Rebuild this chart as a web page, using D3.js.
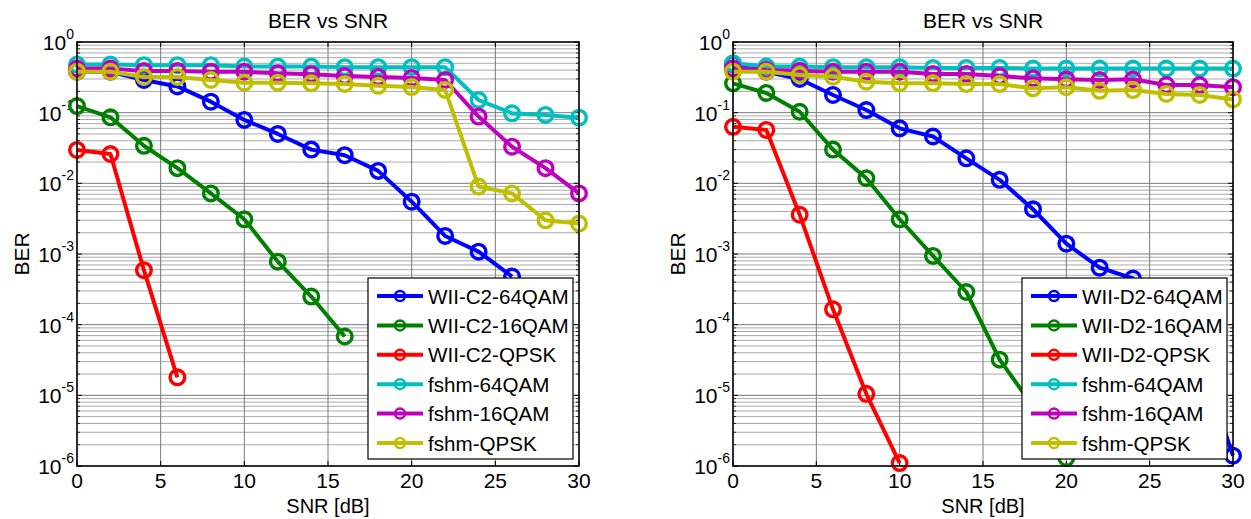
<!DOCTYPE html>
<html><head><meta charset="utf-8">
<script src="https://cdn.jsdelivr.net/npm/d3@7"></script>
<style>body{margin:0;background:#fff}svg{display:block}text{font-family:"Liberation Sans",Arial,Helvetica,sans-serif;fill:#000}</style>
</head><body><svg id="c" width="1251" height="519"></svg>
<script>
const snr = [0,2,4,6,8,10,12,14,16,18,20,22,24,26,28,30];
const xTicks = [0,5,10,15,20,25,30];
const yTickExps = [0,-1,-2,-3,-4,-5,-6];
const chartTitle = "BER vs SNR";
const xLabel = "SNR [dB]";
const yLabel = "BER";

// Left panel (WII-C2)
const c2_64qam = [0.38,0.38,0.29,0.235,0.143,0.079,0.050,0.030,0.025,0.015,0.0055,0.0018,0.00108,0.00048];
const c2_16qam = [0.124,0.086,0.034,0.0164,0.0072,0.0031,0.00078,0.00025,0.000068];
const c2_qpsk  = [0.0297,0.026,0.00059,0.000018];
const fshmL_64qam = [0.48,0.48,0.47,0.47,0.47,0.45,0.45,0.45,0.44,0.44,0.44,0.44,0.151,0.098,0.093,0.085];
const fshmL_16qam = [0.42,0.42,0.39,0.39,0.38,0.38,0.36,0.35,0.33,0.32,0.31,0.29,0.088,0.033,0.0164,0.0072];
const fshmL_qpsk  = [0.38,0.38,0.32,0.32,0.29,0.265,0.265,0.26,0.255,0.24,0.23,0.21,0.0090,0.0072,0.0030,0.0027];
const leftLabels = ["WII-C2-64QAM","WII-C2-16QAM","WII-C2-QPSK","fshm-64QAM","fshm-16QAM","fshm-QPSK"];

// Right panel (WII-D2)
const d2_64qam = [0.49,0.38,0.30,0.178,0.109,0.060,0.046,0.0226,0.0112,0.0043,0.0014,0.00064,0.00045,0.00014,0.000035,0.0000014];
const d2_16qam = [0.26,0.19,0.103,0.030,0.0118,0.0031,0.00094,0.00029,0.000032,0.000007,0.0000013];
const d2_qpsk  = [0.063,0.057,0.0036,0.000165,0.0000105,0.0000011];
const fshmR_64qam = [0.50,0.45,0.45,0.44,0.44,0.44,0.43,0.43,0.43,0.42,0.42,0.42,0.42,0.42,0.42,0.42];
const fshmR_16qam = [0.424,0.402,0.393,0.38,0.38,0.38,0.353,0.353,0.33,0.306,0.297,0.29,0.297,0.246,0.246,0.229];
const fshmR_qpsk  = [0.38,0.38,0.34,0.323,0.274,0.26,0.26,0.254,0.254,0.221,0.229,0.204,0.209,0.184,0.178,0.154];
const rightLabels = ["WII-D2-64QAM","WII-D2-16QAM","WII-D2-QPSK","fshm-64QAM","fshm-16QAM","fshm-QPSK"];

const colors = ["#0000ff","#008000","#ff0000","#00bfbf","#bf00bf","#bfbf00"];

const svg = d3.select("#c");

function panel(left, right, seriesList, labels) {
  const top = 42, bottom = 466;
  const x = d3.scaleLinear().domain([0,30]).range([left,right]);
  const y = d3.scaleLog().domain([1e-6,1]).range([bottom,top]);
  const g = svg.append("g");

  // minor grid
  const minors = [];
  for (let e=-6; e<0; e++) for (let m=2; m<=9; m++) minors.push(m*Math.pow(10,e));
  g.selectAll(".mn").data(minors).enter().append("line")
    .attr("x1",left).attr("x2",right).attr("y1",d=>y(d)).attr("y2",d=>y(d))
    .attr("stroke","#a0a0a0").attr("stroke-width",0.9);
  // major grid
  g.selectAll(".mjy").data(yTickExps).enter().append("line")
    .attr("x1",left).attr("x2",right).attr("y1",d=>y(Math.pow(10,d))).attr("y2",d=>y(Math.pow(10,d)))
    .attr("stroke","#7a7a7a").attr("stroke-width",1);
  g.selectAll(".mjx").data(xTicks).enter().append("line")
    .attr("x1",d=>x(d)).attr("x2",d=>x(d)).attr("y1",top).attr("y2",bottom)
    .attr("stroke","#7a7a7a").attr("stroke-width",1);

  // ticks (inside, all sides)
  const tl = 5, mtl = 3;
  xTicks.forEach(t=>{
    g.append("line").attr("x1",x(t)).attr("x2",x(t)).attr("y1",bottom).attr("y2",bottom-tl).attr("stroke","#000");
    g.append("line").attr("x1",x(t)).attr("x2",x(t)).attr("y1",top).attr("y2",top+tl).attr("stroke","#000");
  });
  yTickExps.forEach(e=>{
    const yy = y(Math.pow(10,e));
    g.append("line").attr("x1",left).attr("x2",left+tl).attr("y1",yy).attr("y2",yy).attr("stroke","#000");
    g.append("line").attr("x1",right).attr("x2",right-tl).attr("y1",yy).attr("y2",yy).attr("stroke","#000");
  });
  minors.forEach(v=>{
    const yy = y(v);
    g.append("line").attr("x1",left).attr("x2",left+mtl).attr("y1",yy).attr("y2",yy).attr("stroke","#000").attr("stroke-width",0.8);
    g.append("line").attr("x1",right).attr("x2",right-mtl).attr("y1",yy).attr("y2",yy).attr("stroke","#000").attr("stroke-width",0.8);
  });

  // tick labels
  g.selectAll(".xl").data(xTicks).enter().append("text")
    .attr("x",d=>x(d)).attr("y",488).attr("text-anchor","middle").attr("font-size",21).text(d=>d);
  yTickExps.forEach(e=>{
    const t = g.append("text").attr("x",left-3).attr("y",y(Math.pow(10,e))+8)
      .attr("text-anchor","end").attr("font-size",21);
    t.append("tspan").text("10");
    t.append("tspan").attr("font-size",14).attr("dy",-11).text(e);
  });

  // labels
  g.append("text").attr("x",(left+right)/2).attr("y",28).attr("text-anchor","middle").attr("font-size",21).text(chartTitle);
  g.append("text").attr("x",(left+right)/2).attr("y",513).attr("text-anchor","middle").attr("font-size",20).text(xLabel);
  g.append("text").attr("transform",`translate(${left-48},${(top+bottom)/2}) rotate(-90)`)
    .attr("text-anchor","middle").attr("font-size",21).text(yLabel);

  // series
  const line = d3.line().x((d,i)=>x(snr[i])).y(d=>y(d));
  seriesList.forEach((s,k)=>{
    const sg = g.append("g");
    sg.append("path").attr("d",line(s)).attr("fill","none").attr("stroke",colors[k])
      .attr("stroke-width",4).attr("stroke-linejoin","round");
    sg.selectAll("circle").data(s).enter().append("circle")
      .attr("cx",(d,i)=>x(snr[i])).attr("cy",d=>y(d)).attr("r",7.3)
      .attr("fill","none").attr("stroke",colors[k]).attr("stroke-width",3.4);
  });

  // axes box
  g.append("rect").attr("x",left).attr("y",top).attr("width",right-left).attr("height",bottom-top)
    .attr("fill","none").attr("stroke","#000").attr("stroke-width",1.5);

  // legend
  const lx = right-211, ly = 278, lw = 205, lh = 181;
  const lg = g.append("g");
  lg.append("rect").attr("x",lx).attr("y",ly).attr("width",lw).attr("height",lh)
    .attr("fill","#fff").attr("stroke","#000").attr("stroke-width",1.2);
  labels.forEach((lab,k)=>{
    const ry = ly + 18 + k*29.4;
    lg.append("line").attr("x1",lx+9).attr("x2",lx+55).attr("y1",ry).attr("y2",ry)
      .attr("stroke",colors[k]).attr("stroke-width",4);
    lg.append("circle").attr("cx",lx+32).attr("cy",ry).attr("r",5)
      .attr("fill","none").attr("stroke",colors[k]).attr("stroke-width",2.5);
    lg.append("text").attr("x",lx+60).attr("y",ry+7.5).attr("font-size",20.6).text(lab);
  });
}

panel(77, 579, [c2_64qam,c2_16qam,c2_qpsk,fshmL_64qam,fshmL_16qam,fshmL_qpsk], leftLabels);
panel(733, 1233, [d2_64qam,d2_16qam,d2_qpsk,fshmR_64qam,fshmR_16qam,fshmR_qpsk], rightLabels);
</script></body></html>
